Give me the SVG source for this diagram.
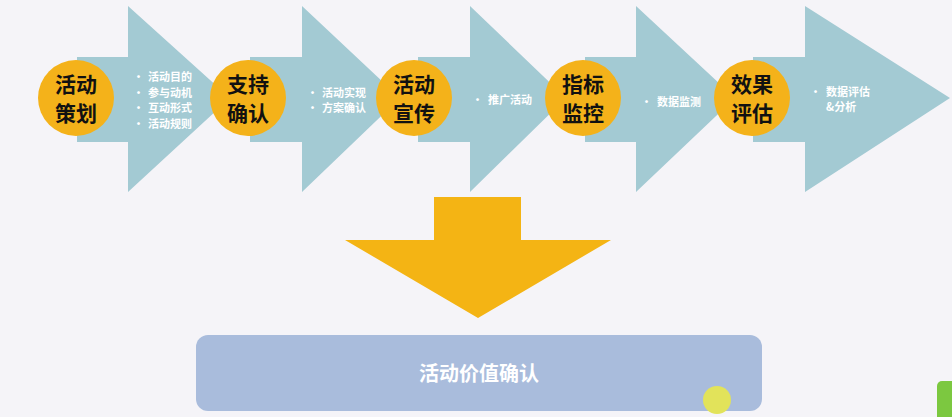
<svg xmlns="http://www.w3.org/2000/svg" width="952" height="417" viewBox="0 0 952 417">
<style>
.ar{fill:#A3CAD3}
.c{fill:#F4B21A}
.t{font-family:"Noto Sans CJK SC","Liberation Sans",sans-serif;font-weight:bold;font-size:21px;fill:#111;text-anchor:middle}
.s{font-family:"Noto Sans CJK SC","Liberation Sans",sans-serif;font-weight:bold;font-size:11px;fill:#fff}
</style>
<rect width="952" height="417" fill="#F5F4F8"/>
<g id="arrows">
<polygon class="ar" points="77,57 128,57 128,6 230,98 128,192 128,142 77,142"/>
<polygon class="ar" points="250,57 302,57 302,6 400,98 302,192 302,142 250,142"/>
<polygon class="ar" points="418,57 470,57 470,6 566,98 470,192 470,142 418,142"/>
<polygon class="ar" points="585,57 636,57 636,6 735,98 636,192 636,142 585,142"/>
<polygon class="ar" points="753,57 805,57 805,6 950,98 805,192 805,142 753,142"/>
</g>
<g id="n1"><circle class="c" cx="76" cy="98" r="38"/><text class="t" x="76" y="92">活动</text><text class="t" x="76" y="121">策划</text>
<text class="s" x="133" y="81">·</text><text class="s" x="148" y="81">活动目的</text>
<text class="s" x="133" y="97">·</text><text class="s" x="148" y="97">参与动机</text>
<text class="s" x="133" y="112">·</text><text class="s" x="148" y="112">互动形式</text>
<text class="s" x="133" y="128">·</text><text class="s" x="148" y="128">活动规则</text></g>
<g id="n2"><circle class="c" cx="248" cy="98" r="38"/><text class="t" x="248" y="92">支持</text><text class="t" x="248" y="121">确认</text>
<text class="s" x="307" y="97">·</text><text class="s" x="322" y="97">活动实现</text>
<text class="s" x="307" y="112">·</text><text class="s" x="322" y="112">方案确认</text></g>
<g id="n3"><circle class="c" cx="414" cy="98" r="38"/><text class="t" x="414" y="92">活动</text><text class="t" x="414" y="121">宣传</text>
<text class="s" x="472" y="104">·</text><text class="s" x="488" y="104">推广活动</text></g>
<g id="n4"><circle class="c" cx="583" cy="98" r="38"/><text class="t" x="583" y="92">指标</text><text class="t" x="583" y="121">监控</text>
<text class="s" x="641" y="106">·</text><text class="s" x="657" y="106">数据监测</text></g>
<g id="n5"><circle class="c" cx="752" cy="98" r="38"/><text class="t" x="752" y="92">效果</text><text class="t" x="752" y="121">评估</text>
<text class="s" x="810" y="96">·</text><text class="s" x="826" y="96">数据评估</text><text class="s" x="826" y="111">&amp;分析</text></g>
<g id="connectors"><polygon fill="#F4B414" points="434,197 521,197 521,240 611,240 478,318 345,240 434,240"/></g>
<g id="result"><rect x="196" y="335" width="566" height="76" rx="12" fill="#A9BCDC"/>
<text x="479" y="381" text-anchor="middle" font-family="Noto Sans CJK SC,Liberation Sans,sans-serif" font-weight="bold" font-size="20" fill="#fff">活动价值确认</text></g>
<circle cx="717" cy="400" r="14" fill="#E2E35A"/>
<rect x="937" y="381" width="20" height="40" rx="5" fill="#7CC840"/>
</svg>
